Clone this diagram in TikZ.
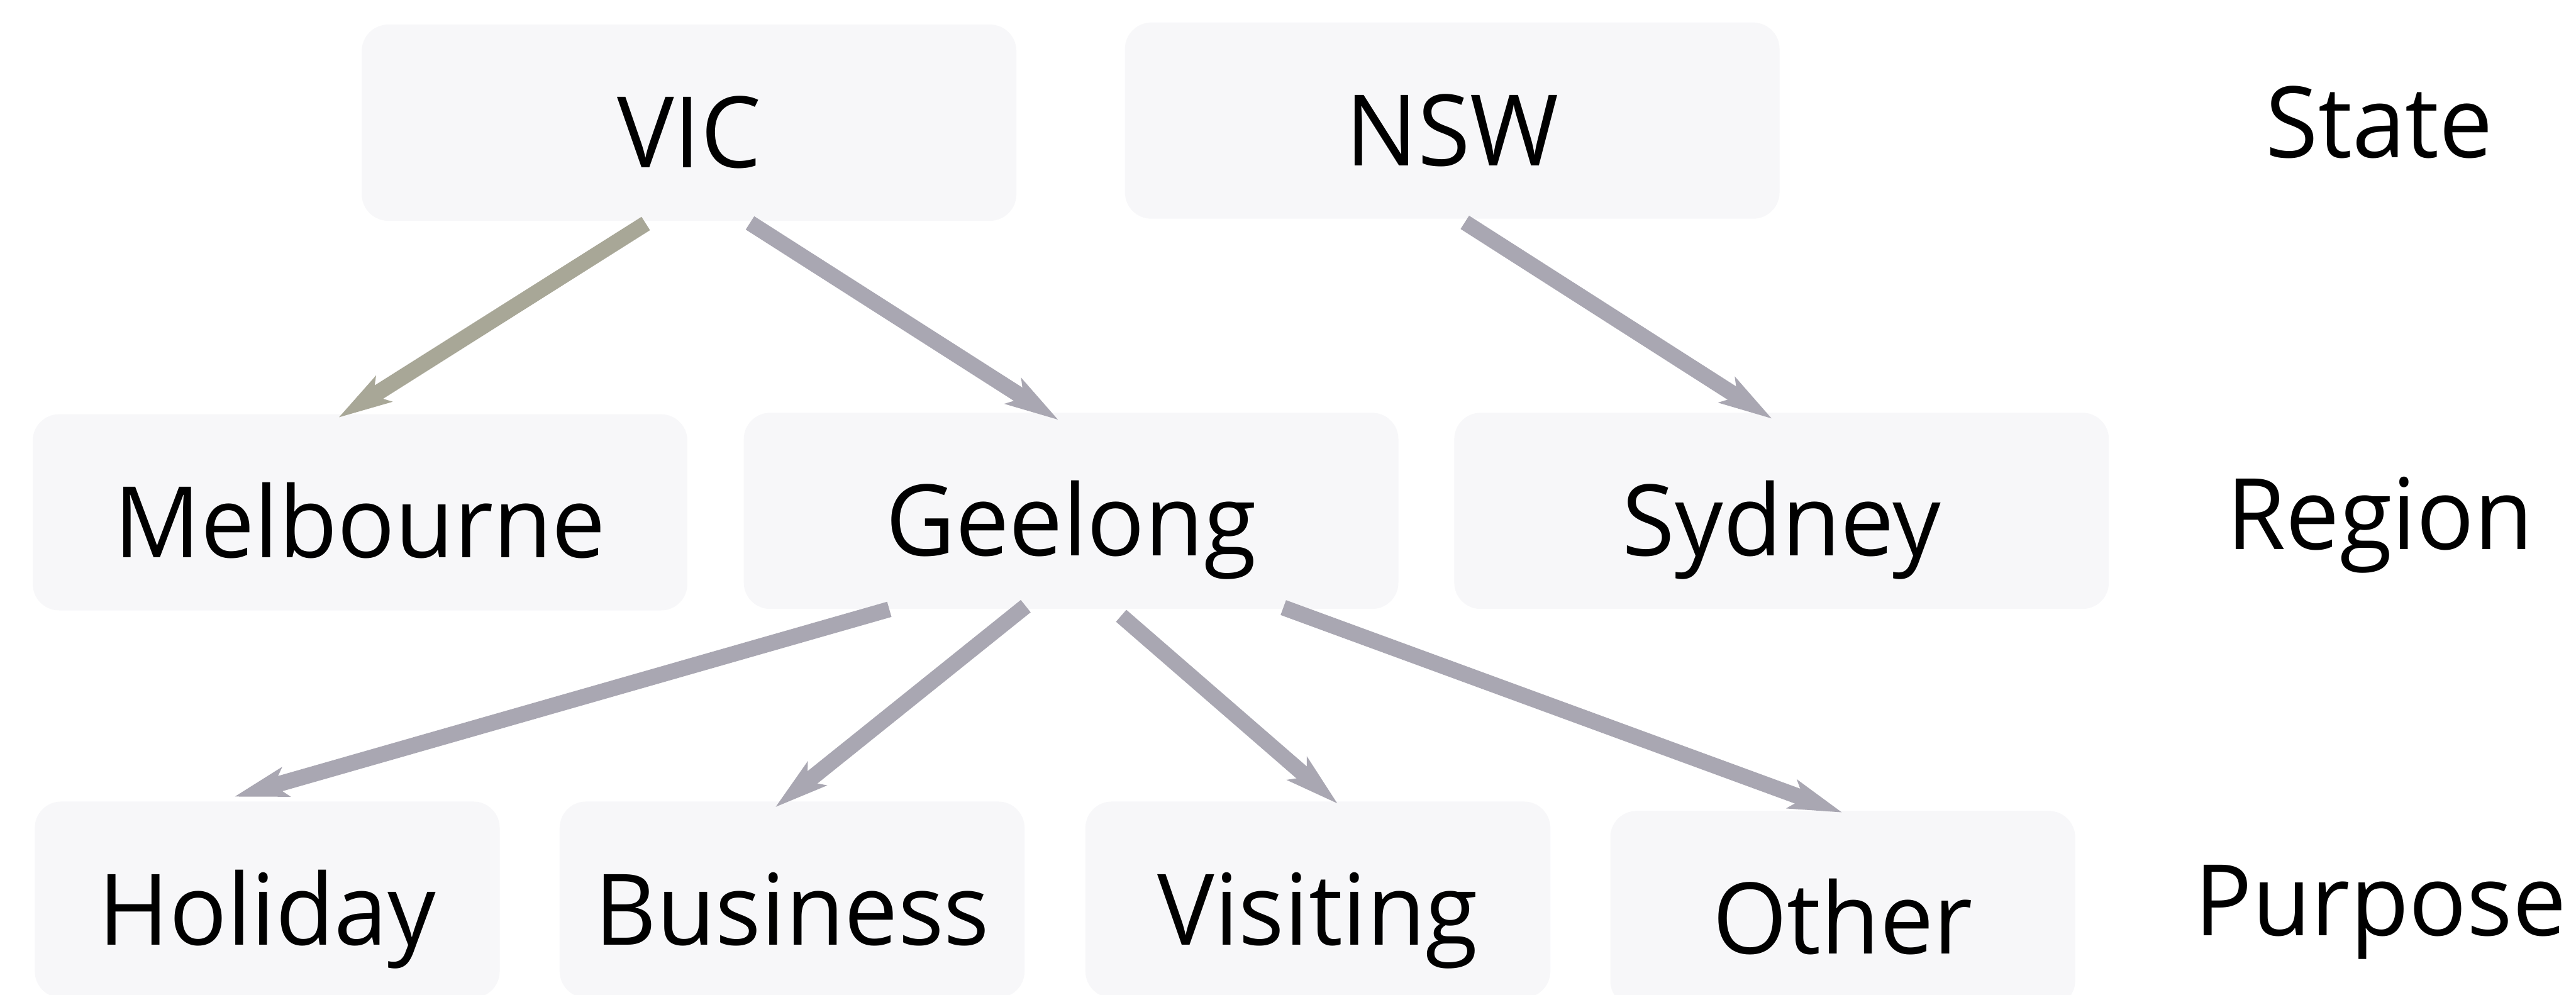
\documentclass[tikz,border=0pt]{standalone}
\usepackage{fontspec}
\setmainfont{Open Sans}[FakeStretch=0.97]
\usetikzlibrary{arrows.meta}
\definecolor{boxfill}{HTML}{F7F7F9}
\definecolor{edgegray}{HTML}{A9A7B2}
\definecolor{edgeolive}{HTML}{A8A797}
\tikzset{
  box/.style={fill=boxfill, rounded corners=0.45cm, inner sep=0pt,
    minimum width=11.18cm, minimum height=3.35cm,
    text height=1.54cm, text depth=0cm,
    font=\fontsize{48}{58}\selectfont},
  pbox/.style={box, minimum width=7.94cm},
  lvl/.style={anchor=base, inner sep=0pt, font=\fontsize{48}{58}\selectfont},
  conn/.style={draw=edgegray, line width=0.27cm,
    -{Stealth[length=0.9cm, width=0.5cm, inset=0.2cm]}},
  connolive/.style={conn, draw=edgeolive}
}
\begin{document}
\begin{tikzpicture}
\clip (0,0) rectangle (44,-16.99);
\fill[white] (0,0) rectangle (44,-16.99);
% state row
\node[box] (vic) at (11.77,-2.095) {VIC};
\node[box] (nsw) at (24.805,-2.06) {NSW};
% region row
\node[box] (melb) at (6.15,-8.75) {Melbourne};
\node[box] (geel) at (18.295,-8.725) {Geelong};
\node[box] (syd) at (30.43,-8.725) {Sydney};
% purpose row
\node[pbox] (hol) at (4.565,-15.365) {Holiday};
\node[pbox] (bus) at (13.53,-15.365) {Business};
\node[pbox] (vis) at (22.51,-15.365) {Visiting};
\node[pbox] (oth) at (31.475,-15.525) {Other};
% level labels
\node[lvl] (lstate) at (40.64,-2.69) {State};
\node[lvl] (lregion) at (40.65,-9.38) {Region};
\node[lvl] (lpurpose) at (40.66,-15.98) {Purpose};
% connectors
\draw[connolive] ([xshift=-0.74cm,yshift=-0.04cm]vic.south) -- ([xshift=-0.37cm,yshift=-0.065cm]melb.north);
\draw[conn] ([xshift=1.04cm,yshift=-0.03cm]vic.south) -- ([xshift=-0.215cm,yshift=-0.13cm]geel.north);
\draw[conn] ([xshift=0.215cm,yshift=-0.055cm]nsw.south) -- ([xshift=-0.16cm,yshift=-0.11cm]syd.north);
\draw[conn] ([xshift=-3.105cm]geel.south) -- ([xshift=-0.565cm,yshift=0.075cm]hol.north);
\draw[conn] ([xshift=-0.775cm,yshift=0.055cm]geel.south) -- ([xshift=-0.29cm,yshift=-0.105cm]bus.north);
\draw[conn] ([xshift=0.855cm,yshift=-0.11cm]geel.south) -- ([xshift=0.34cm,yshift=-0.045cm]vis.north);
\draw[conn] ([xshift=3.625cm,yshift=0.03cm]geel.south) -- ([xshift=-0.005cm,yshift=-0.035cm]oth.north);
\end{tikzpicture}
\end{document}
